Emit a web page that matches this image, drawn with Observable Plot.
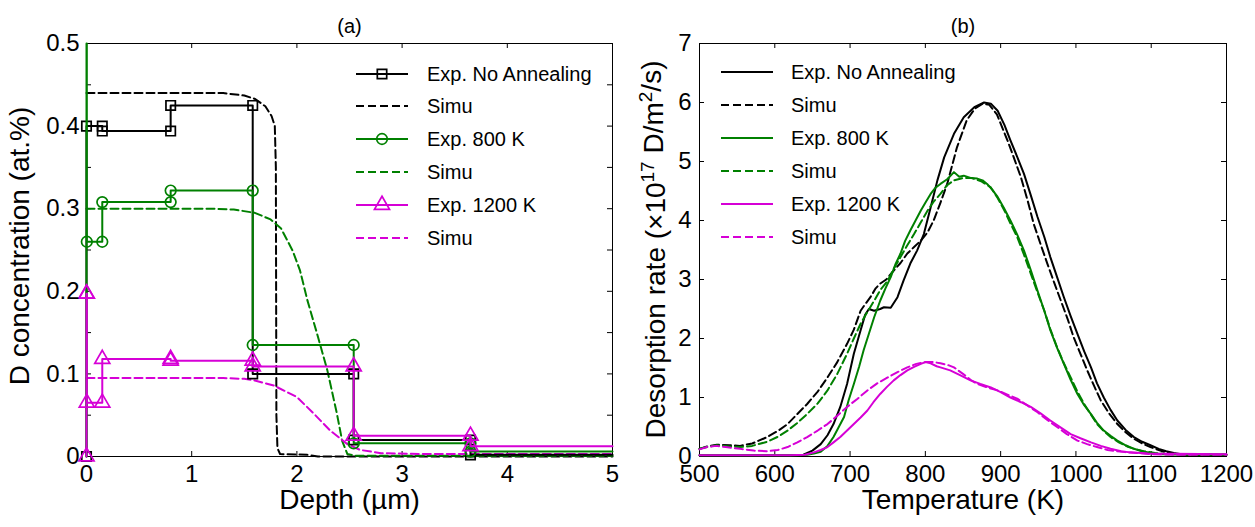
<!DOCTYPE html>
<html><head><meta charset="utf-8">
<script src="https://cdn.jsdelivr.net/npm/d3@7"></script>
<script src="https://cdn.jsdelivr.net/npm/@observablehq/plot@0.6"></script>
<style>
body{margin:0;background:#fff;}
#wrap{display:flex;width:1255px;height:527px;background:#fff;}
</style></head><body><div id="wrap"></div>
<script>
// ---------- Panel (a): depth profiles ----------
const depthNoAnneal = [0, 0, 0.15, 0.15, 0.8, 0.8, 1.58, 1.58, 2.54, 2.54, 3.65, 3.65, 5];
const concNoAnneal  = [0, 0.40, 0.40, 0.394, 0.394, 0.425, 0.425, 0.100, 0.100, 0.020, 0.020, 0.002, 0.002];
const depth800 = [0, 0, 0.003, 0.003, 0.15, 0.15, 0.8, 0.8, 1.58, 1.58, 2.54, 2.54, 3.65, 3.65, 5];
const conc800  = [0, 0.5, 0.5, 0.26, 0.26, 0.308, 0.308, 0.322, 0.322, 0.135, 0.135, 0.016, 0.016, 0.006, 0.006];
const depth1200 = [0, 0, 0.003, 0.003, 0.15, 0.15, 0.8, 0.8, 1.58, 1.58, 2.54, 2.54, 3.65, 3.65, 5];
const conc1200  = [0, 0.197, 0.197, 0.065, 0.065, 0.118, 0.118, 0.116, 0.116, 0.109, 0.109, 0.025, 0.025, 0.0125, 0.0125];

const simDepthNoAnneal = [0, 1.3, 1.5, 1.6, 1.7, 1.76, 1.79, 1.80, 1.805, 1.815, 1.84, 2.1, 2.2, 5];
const simConcNoAnneal  = [0.44, 0.44, 0.437, 0.433, 0.424, 0.412, 0.40, 0.35, 0.05, 0.01, 0.003, 0.002, 0, 0];
const simDepth800 = [0, 1.2, 1.4, 1.6, 1.75, 1.85, 1.96, 2.03, 2.1, 2.2, 2.29, 2.38, 2.43, 2.48, 2.55, 5];
const simConc800  = [0.30, 0.30, 0.299, 0.295, 0.287, 0.276, 0.249, 0.225, 0.189, 0.145, 0.104, 0.052, 0.019, 0.003, 0.001, 0.001];
const simDepth1200 = [0, 1.3, 1.5, 1.6, 1.78, 2.0, 2.16, 2.32, 2.48, 2.6, 2.8, 3.2, 5];
const simConc1200  = [0.095, 0.095, 0.094, 0.092, 0.086, 0.072, 0.052, 0.031, 0.015, 0.008, 0.004, 0.003, 0.003];

const xTicksA = [0, 1, 2, 3, 4, 5];
const yTicksA = [0, 0.1, 0.2, 0.3, 0.4, 0.5];
const yTickMarksA = [0, 0.05, 0.1, 0.15, 0.2, 0.25, 0.3, 0.35, 0.4, 0.45, 0.5];

// ---------- Panel (b): TDS spectra ----------
const tNoAnneal = [500,600,630,638,650,661,670,678,687,696,705,714,720,725,732,740,745,754,763,771,780,789,798,807,816,825,838,851,865,878,887,896,905,913,922,931,940,949,958,966,975,984,993,1002,1011,1020,1028,1037,1046,1055,1066,1077,1088,1099,1110,1120,1130,1140,1200];
const rNoAnneal = [0.02,0.02,0.02,0.03,0.10,0.21,0.36,0.55,0.84,1.23,1.74,2.14,2.40,2.50,2.47,2.50,2.53,2.52,2.70,2.98,3.27,3.49,3.77,4.22,4.68,5.07,5.47,5.75,5.92,6.00,5.98,5.86,5.62,5.36,5.08,4.79,4.43,4.06,3.72,3.38,3.04,2.70,2.38,2.08,1.78,1.51,1.24,1.00,0.79,0.61,0.45,0.33,0.25,0.19,0.13,0.09,0.06,0.04,0.03];
const tSimNoAnneal = [500,510,523,540,554,570,590,605,617,630,643,657,670,683,696,705,714,720,727,734,740,748,758,767,776,785,794,803,811,820,829,842,855,866,876,885,895,909,918,927,936,944,953,962,971,980,989,997,1006,1015,1024,1033,1044,1055,1066,1077,1088,1099,1110,1120,1135,1150,1200];
const rSimNoAnneal = [0.13,0.17,0.20,0.19,0.18,0.22,0.33,0.44,0.55,0.72,0.89,1.10,1.34,1.60,1.91,2.15,2.47,2.58,2.70,2.85,2.93,3.00,3.15,3.28,3.44,3.55,3.66,3.80,4.00,4.30,4.62,5.24,5.70,5.90,5.98,5.96,5.80,5.36,5.05,4.73,4.33,3.94,3.60,3.27,2.95,2.64,2.33,2.02,1.74,1.46,1.20,0.95,0.73,0.55,0.41,0.30,0.22,0.16,0.11,0.07,0.04,0.03,0.03];
const t800 = [500,630,643,652,661,670,678,685,692,698,705,712,718,725,732,740,747,754,760,767,773,780,787,794,800,807,813,820,829,838,845,851,860,869,876,882,889,896,904,913,922,931,940,949,958,966,975,984,993,1002,1011,1020,1028,1037,1046,1055,1066,1077,1088,1100,1115,1200];
const r800 = [0.02,0.02,0.03,0.05,0.08,0.18,0.33,0.50,0.67,0.95,1.23,1.52,1.80,2.08,2.36,2.64,2.85,3.04,3.25,3.44,3.65,3.83,4.00,4.17,4.30,4.45,4.55,4.62,4.70,4.82,4.74,4.76,4.72,4.71,4.68,4.62,4.52,4.40,4.22,4.00,3.76,3.49,3.16,2.81,2.47,2.14,1.84,1.57,1.30,1.06,0.87,0.72,0.57,0.44,0.35,0.27,0.19,0.13,0.09,0.06,0.04,0.03];
const tSim800 = [500,510,523,540,554,570,590,605,617,630,643,657,670,683,696,705,714,723,732,740,750,758,767,776,785,794,803,811,820,829,838,850,862,875,887,896,905,913,922,931,940,949,958,966,975,984,993,1002,1011,1020,1028,1037,1046,1057,1068,1080,1090,1105,1120,1200];
const rSim800 = [0.13,0.16,0.19,0.17,0.16,0.18,0.25,0.34,0.44,0.57,0.72,0.90,1.12,1.40,1.74,2.00,2.25,2.45,2.64,2.82,2.98,3.18,3.38,3.58,3.77,3.97,4.17,4.32,4.45,4.60,4.68,4.72,4.72,4.66,4.56,4.38,4.17,3.95,3.72,3.42,3.10,2.78,2.47,2.16,1.85,1.58,1.34,1.10,0.89,0.71,0.55,0.43,0.33,0.24,0.17,0.12,0.09,0.06,0.04,0.03];
const t1200 = [500,620,640,652,661,670,678,687,696,705,714,723,731,740,749,758,767,776,785,794,800,807,815,820,833,846,860,873,887,900,913,927,940,953,966,980,993,1006,1020,1033,1046,1060,1072,1095,1200];
const r1200 = [0.02,0.02,0.03,0.07,0.11,0.16,0.24,0.33,0.44,0.55,0.66,0.78,0.92,1.06,1.18,1.29,1.38,1.46,1.52,1.57,1.60,1.58,1.53,1.51,1.46,1.38,1.29,1.23,1.17,1.09,1.00,0.92,0.84,0.73,0.61,0.49,0.38,0.31,0.24,0.18,0.13,0.09,0.07,0.05,0.04];
const tSim1200 = [500,510,522,535,554,572,590,604,617,630,643,657,670,683,696,710,723,736,750,763,776,788,800,811,820,830,838,850,860,869,882,896,909,922,935,949,962,975,988,1002,1015,1028,1042,1055,1068,1082,1100,1130,1200];
const rSim1200 = [0.12,0.16,0.18,0.16,0.13,0.10,0.09,0.11,0.16,0.24,0.33,0.44,0.55,0.69,0.84,0.98,1.12,1.24,1.34,1.43,1.51,1.57,1.60,1.60,1.58,1.55,1.51,1.40,1.30,1.23,1.17,1.12,1.05,0.98,0.87,0.75,0.62,0.50,0.38,0.27,0.21,0.16,0.11,0.09,0.07,0.06,0.04,0.03,0.03];

const xTicksB = [500, 600, 700, 800, 900, 1000, 1100, 1200];
const yTicksB = [0, 1, 2, 3, 4, 5, 6, 7];

// legend
const legendLabels = ["Exp. No Annealing", "Simu", "Exp. 800 K", "Simu", "Exp. 1200 K", "Simu"];
const legendColors = ["black", "black", "#008000", "#008000", "#d600d6", "#d600d6"];
const legendDashed = [false, true, false, true, false, true];
const legendSymbolsA = ["square", null, "circle", null, "triangle", null];

const BLACK = "black", GREEN = "#008000", MAG = "#d600d6";
const DASH = "8,4";
const FONT = "'Liberation Sans', Arial, Helvetica, sans-serif";
const FRAME_H = 413, FRAME_WA = 526, FRAME_WB = 527, TICK = 5;

const zip = (xs, ys, kx, ky) => xs.map((x, i) => ({[kx]: x, [ky]: ys[i]}));

const expA = [
  {pts: zip(depthNoAnneal, concNoAnneal, "d", "c"), color: BLACK, symbol: "square", markStart: true},
  {pts: zip(depth800, conc800, "d", "c"), color: GREEN, symbol: "circle", markStart: false},
  {pts: zip(depth1200, conc1200, "d", "c"), color: MAG, symbol: "triangle", markStart: true}
];
const simA = [
  {pts: zip(simDepthNoAnneal, simConcNoAnneal, "d", "c"), color: BLACK},
  {pts: zip(simDepth800, simConc800, "d", "c"), color: GREEN},
  {pts: zip(simDepth1200, simConc1200, "d", "c"), color: MAG}
];

function innerTicks(xt, yt, fw) {
  return [
    Plot.tickX(xt, {x: d => d, insetTop: FRAME_H - TICK, stroke: "black"}),
    Plot.tickX(xt, {x: d => d, insetBottom: FRAME_H - TICK, stroke: "black"}),
    Plot.tickY(yt, {y: d => d, insetRight: fw - TICK, stroke: "black"}),
    Plot.tickY(yt, {y: d => d, insetLeft: fw - TICK, stroke: "black"})
  ];
}

const marksA = [Plot.frame({stroke: "black", strokeWidth: 1})];
marksA.push(...innerTicks(xTicksA, yTickMarksA, FRAME_WA));
for (const s of simA) {
  marksA.push(Plot.line(s.pts, {x: "d", y: "c", stroke: s.color, strokeWidth: 2, strokeDasharray: DASH}));
}
for (const s of expA) {
  marksA.push(Plot.line(s.pts, {x: "d", y: "c", stroke: s.color, strokeWidth: 2}));
  const m = s.pts.filter((p, i) => p.d < 5 && p.c < 0.5 && (i > 0 || s.markStart));
  marksA.push(Plot.dot(m, {x: "d", y: "c", symbol: s.symbol, r: s.symbol === "triangle" ? 5.6 : 5.3, stroke: s.color, fill: "none", strokeWidth: 1.7}));
}
marksA.push(
  Plot.axisX(xTicksA, {anchor: "bottom", tickSize: 0, tickPadding: 8, tickFormat: d => String(d), label: null, fontSize: 24}),
  Plot.axisY(yTicksA, {anchor: "left", tickSize: 0, tickPadding: 7, tickFormat: d => String(d), label: null, fontSize: 24}),
  Plot.text(["Depth (µm)"], {frameAnchor: "bottom", dy: 52, fontSize: 28}),
  Plot.text(["D concentration (at.%)"], {frameAnchor: "left", textAnchor: "middle", rotate: -90, dx: -66, dy: -4, fontSize: 28}),
  Plot.text(["(a)"], {frameAnchor: "top", dy: -25, fontSize: 20})
);

const styleObj = {fontFamily: FONT, fontSize: "24px", color: "black", background: "white", overflow: "visible"};

const svgA = Plot.plot({
  width: 627, height: 527,
  marginLeft: 86, marginRight: 15, marginTop: 43, marginBottom: 71,
  style: styleObj,
  x: {domain: [0, 5], axis: null, label: null},
  y: {domain: [0, 0.5], axis: null, label: null},
  marks: marksA
});

const expB = [
  {pts: zip(tNoAnneal, rNoAnneal, "t", "r"), color: BLACK},
  {pts: zip(tSimNoAnneal, rSimNoAnneal, "t", "r"), color: BLACK, dash: true},
  {pts: zip(t800, r800, "t", "r"), color: GREEN},
  {pts: zip(tSim800, rSim800, "t", "r"), color: GREEN, dash: true},
  {pts: zip(t1200, r1200, "t", "r"), color: MAG},
  {pts: zip(tSim1200, rSim1200, "t", "r"), color: MAG, dash: true}
];
const marksB = [Plot.frame({stroke: "black", strokeWidth: 1})];
marksB.push(...innerTicks(xTicksB, yTicksB, FRAME_WB));
for (const s of expB) {
  marksB.push(Plot.line(s.pts, {x: "t", y: "r", stroke: s.color, strokeWidth: 2, strokeDasharray: s.dash ? DASH : null}));
}
marksB.push(
  Plot.axisX(xTicksB, {anchor: "bottom", tickSize: 0, tickPadding: 8, tickFormat: d => String(d), label: null, fontSize: 24}),
  Plot.axisY(yTicksB, {anchor: "left", tickSize: 0, tickPadding: 8, tickFormat: d => String(d), label: null, fontSize: 24}),
  Plot.text(["Temperature (K)"], {frameAnchor: "bottom", dy: 52, fontSize: 28}),
  Plot.text(["(b)"], {frameAnchor: "top", dy: -25, fontSize: 20})
);
const svgB = Plot.plot({
  width: 628, height: 527,
  marginLeft: 72, marginRight: 29, marginTop: 43, marginBottom: 71,
  style: styleObj,
  x: {domain: [500, 1200], axis: null, label: null},
  y: {domain: [0, 7], axis: null, label: null},
  marks: marksB
});

// y label of panel (b) with real superscripts
const yLabelBParts = [["Desorption rate (×10", false], ["17", true], [" D/m", false], ["2", true], ["/s)", false]];
{
  const t = d3.select(svgB).append("text")
    .attr("transform", `translate(${72 - 44},${43 + FRAME_H / 2}) rotate(-90)`)
    .attr("text-anchor", "middle").attr("dy", "0.35em")
    .attr("font-family", FONT).attr("font-size", 28).attr("fill", "black");
  yLabelBParts.forEach(([s, sup]) => {
    const sp = t.append("tspan").text(s);
    if (sup) sp.attr("font-size", 19).attr("dy", "-0.55em");
    else sp.attr("dy", sp.node().previousSibling ? "0.3em" : null);
  });
}

function addLegend(svg, x1, x2, xt, rows, symbols) {
  const g = d3.select(svg).append("g").attr("font-family", FONT).attr("font-size", 20).attr("text-anchor", "start");
  legendLabels.forEach((lab, i) => {
    const y = rows[i];
    g.append("line").attr("x1", x1).attr("x2", x2).attr("y1", y).attr("y2", y)
      .attr("stroke", legendColors[i]).attr("stroke-width", 2)
      .attr("stroke-dasharray", legendDashed[i] ? DASH : null);
    if (symbols && symbols[i]) {
      const type = symbols[i] === "square" ? d3.symbolSquare : symbols[i] === "circle" ? d3.symbolCircle : d3.symbolTriangle;
      const r = symbols[i] === "triangle" ? 5.6 : 5.3;
      g.append("path").attr("d", d3.symbol(type, Math.PI * r * r)())
        .attr("transform", `translate(${(x1 + x2) / 2},${y})`)
        .attr("fill", "none").attr("stroke", legendColors[i]).attr("stroke-width", 1.7);
    }
    g.append("text").attr("x", xt).attr("y", y).attr("dy", "0.35em").attr("fill", "black").text(lab);
  });
}
addLegend(svgA, 356, 408, 427, [74, 106, 139, 172, 205, 238], legendSymbolsA);
addLegend(svgB, 94, 146, 164, [72, 105, 138, 171, 204, 237], null);

document.getElementById("wrap").append(svgA, svgB);
</script></body></html>
